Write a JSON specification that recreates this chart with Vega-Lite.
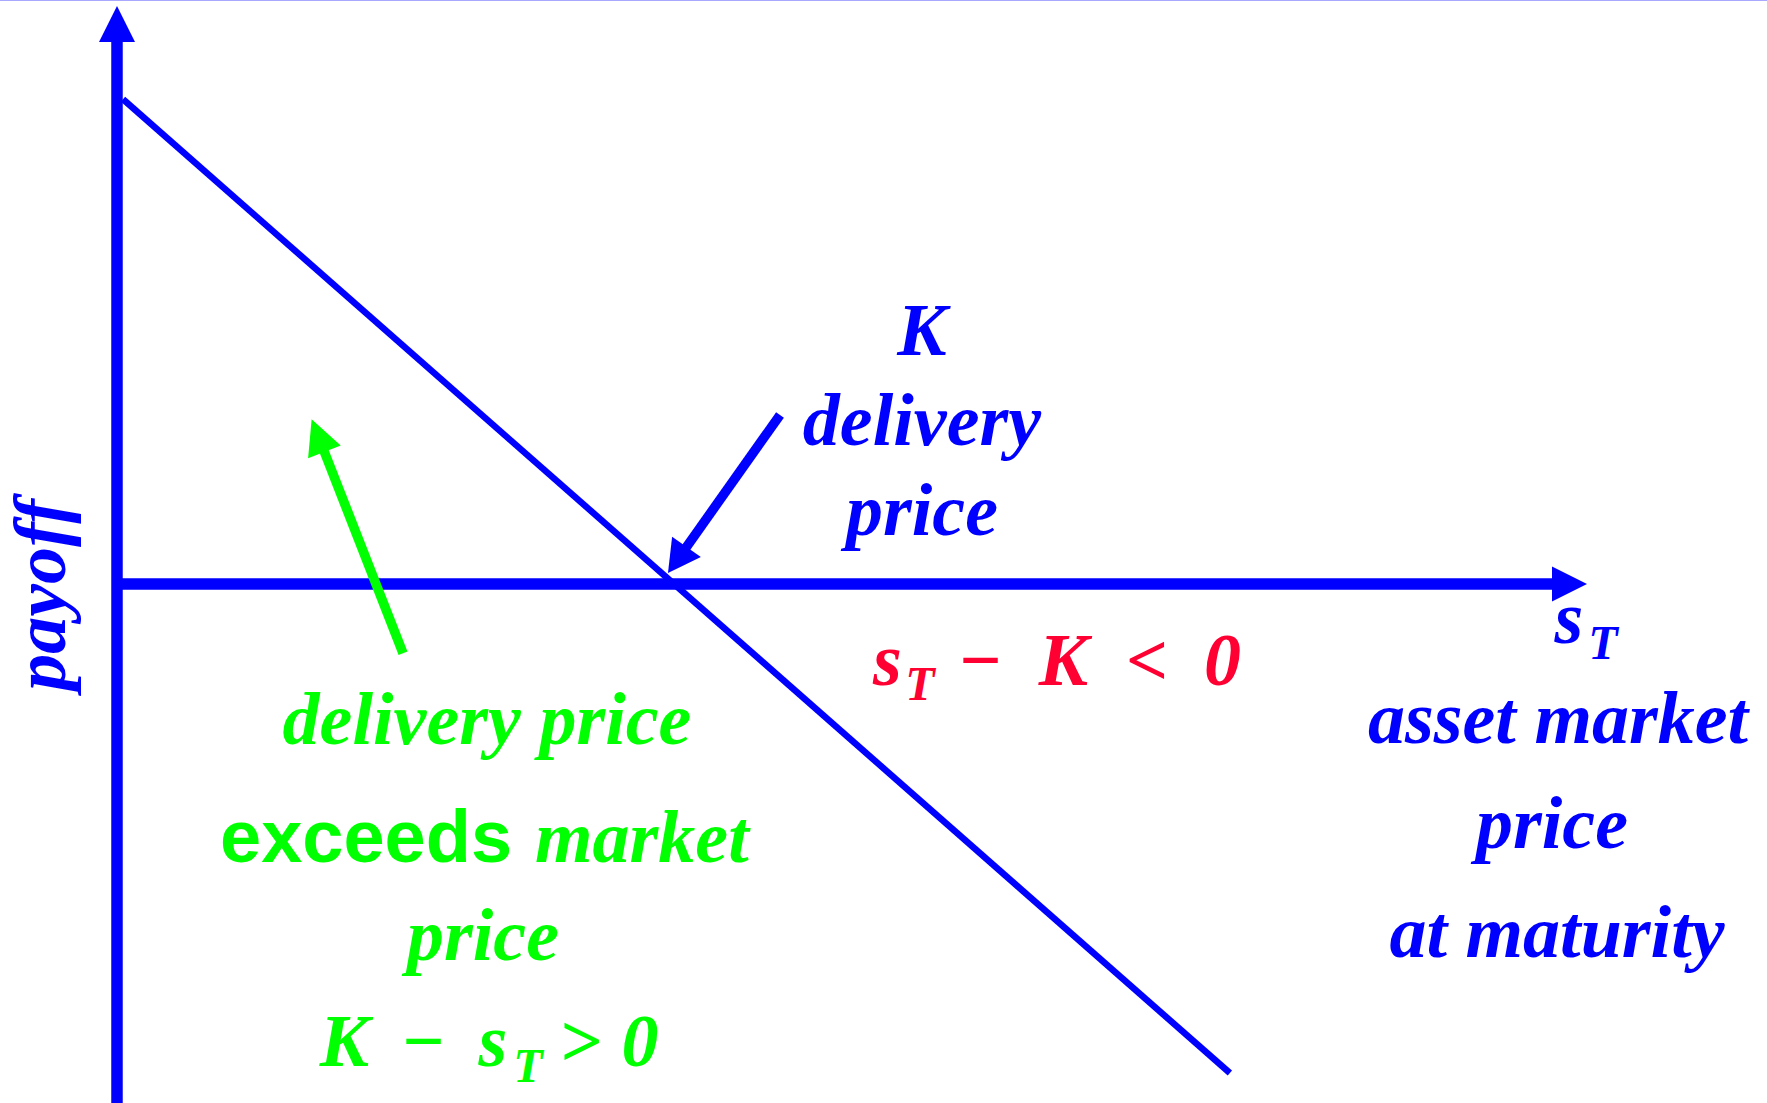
{
  "$schema": "https://vega.github.io/schema/vega-lite/v6.json",
  "width": 1767,
  "height": 1103,
  "padding": 0,
  "autosize": {"type": "none"},
  "background": "white",
  "config": {"view": {"stroke": null}},
  "encoding": {
    "x": {"field": "s", "type": "quantitative", "scale": {"domain": [-21.005, 296.23], "nice": false, "zero": false}, "axis": null},
    "y": {"field": "payoff", "type": "quantitative", "scale": {"domain": [-105.92, 119.18], "nice": false, "zero": false}, "axis": null}
  },
  "layer": [
    {
      "data": {"values": [{"s": -21.005, "s2": 296.23, "payoff": 119.18}]},
      "mark": {"type": "rule", "color": "#a8a8ff", "strokeWidth": 2},
      "encoding": {"x2": {"field": "s2"}}
    },
    {
      "data": {"values": [{"s": 0, "payoff": -105.92, "payoff2": 112.5}]},
      "mark": {"type": "rule", "color": "#0000ff", "strokeWidth": 11.5, "strokeCap": "butt"},
      "encoding": {"y2": {"field": "payoff2"}}
    },
    {
      "data": {"values": [{"s": -0.9, "s2": 259.5, "payoff": 0}]},
      "mark": {"type": "rule", "color": "#0000ff", "strokeWidth": 11.5, "strokeCap": "butt"},
      "encoding": {"x2": {"field": "s2"}}
    },
    {
      "data": {"values": [{"s": 0, "payoff": 114.29}]},
      "mark": {"type": "point", "shape": "M0,-1L-1,1L1,1Z", "size": 1296, "filled": true, "color": "#0000ff", "opacity": 1, "strokeWidth": 0}
    },
    {
      "data": {"values": [{"s": 260.77, "payoff": 0}]},
      "mark": {"type": "point", "shape": "M0,-1L-1,1L1,1Z", "size": 1225, "angle": 90, "filled": true, "color": "#0000ff", "opacity": 1, "strokeWidth": 0}
    },
    {
      "data": {"values": [{"s": 1.08, "payoff": 98.92}, {"s": 199.8, "payoff": -99.8}]},
      "mark": {"type": "line", "color": "#0000ff", "strokeWidth": 6.5, "strokeCap": "butt"}
    },
    {
      "data": {"values": [{"s": 51.35, "payoff": -14.14, "s2": 36.77, "payoff2": 28.29}]},
      "mark": {"type": "rule", "color": "#00ff00", "strokeWidth": 9.5, "strokeCap": "butt"},
      "encoding": {"x2": {"field": "s2"}, "y2": {"field": "payoff2"}}
    },
    {
      "data": {"values": [{"s": 36.09, "payoff": 30.29}]},
      "mark": {"type": "point", "shape": "M0,-1L-1,1L1,1Z", "size": 1225, "angle": 338.6, "filled": true, "color": "#00ff00", "opacity": 1, "strokeWidth": 0}
    },
    {
      "data": {"values": [{"s": 119.03, "payoff": 34.49, "s2": 101.42, "payoff2": 6.24}]},
      "mark": {"type": "rule", "color": "#0000ff", "strokeWidth": 9.5, "strokeCap": "butt"},
      "encoding": {"x2": {"field": "s2"}, "y2": {"field": "payoff2"}}
    },
    {
      "data": {"values": [{"s": 100.58, "payoff": 4.91}]},
      "mark": {"type": "point", "shape": "M0,-1L-1.1,1L1.1,1Z", "size": 1024, "angle": 215.3, "filled": true, "color": "#0000ff", "opacity": 1, "strokeWidth": 0}
    },
    {
      "data": {"values": [
        {"s": 144.52, "payoff": 46.73, "label": "K"},
        {"s": 144.52, "payoff": 28.37, "label": "delivery"},
        {"s": 144.52, "payoff": 10.0, "label": "price"},
        {"s": 260.68, "payoff": -12.04, "label": "s"},
        {"s": 258.71, "payoff": -32.45, "label": "asset market"},
        {"s": 257.63, "payoff": -53.88, "label": "price"},
        {"s": 258.53, "payoff": -76.12, "label": "at maturity"}
      ]},
      "mark": {"type": "text", "font": "Liberation Serif", "fontStyle": "italic", "fontWeight": "bold", "fontSize": 74, "color": "#0000ff", "align": "center", "baseline": "alphabetic"},
      "encoding": {"text": {"field": "label"}}
    },
    {
      "data": {"values": [{"s": 266.79, "payoff": -15.31, "label": "T"}]},
      "mark": {"type": "text", "font": "Liberation Serif", "fontStyle": "italic", "fontWeight": "bold", "fontSize": 48, "color": "#0000ff", "align": "center", "baseline": "alphabetic"},
      "encoding": {"text": {"field": "label"}}
    },
    {
      "data": {"values": [{"s": -9.3, "payoff": -2.24, "label": "payoff"}]},
      "mark": {"type": "text", "font": "Liberation Serif", "fontStyle": "italic", "fontWeight": "bold", "fontSize": 74, "color": "#0000ff", "align": "center", "baseline": "alphabetic", "angle": 270},
      "encoding": {"text": {"field": "label"}}
    },
    {
      "data": {"values": [
        {"s": 138.33, "payoff": -20.61, "label": "s"},
        {"s": 154.94, "payoff": -20.61, "label": "−"},
        {"s": 169.93, "payoff": -20.61, "label": "K"},
        {"s": 184.92, "payoff": -20.61, "label": "<"},
        {"s": 198.47, "payoff": -20.61, "label": "0"}
      ]},
      "mark": {"type": "text", "font": "Liberation Serif", "fontStyle": "italic", "fontWeight": "bold", "fontSize": 74, "color": "#ff0033", "align": "center", "baseline": "alphabetic"},
      "encoding": {"text": {"field": "label"}}
    },
    {
      "data": {"values": [{"s": 144.17, "payoff": -23.67, "label": "T"}]},
      "mark": {"type": "text", "font": "Liberation Serif", "fontStyle": "italic", "fontWeight": "bold", "fontSize": 48, "color": "#ff0033", "align": "center", "baseline": "alphabetic"},
      "encoding": {"text": {"field": "label"}}
    },
    {
      "data": {"values": [
        {"s": 66.43, "payoff": -32.65, "label": "delivery price"},
        {"s": 65.71, "payoff": -76.73, "label": "price"},
        {"s": 40.84, "payoff": -98.37, "label": "K"},
        {"s": 54.94, "payoff": -98.37, "label": "−"},
        {"s": 67.5, "payoff": -98.37, "label": "s"},
        {"s": 83.12, "payoff": -98.37, "label": ">"},
        {"s": 93.9, "payoff": -98.37, "label": "0"}
      ]},
      "mark": {"type": "text", "font": "Liberation Serif", "fontStyle": "italic", "fontWeight": "bold", "fontSize": 74, "color": "#00ff00", "align": "center", "baseline": "alphabetic"},
      "encoding": {"text": {"field": "label"}}
    },
    {
      "data": {"values": [{"s": 73.79, "payoff": -101.63, "label": "T"}]},
      "mark": {"type": "text", "font": "Liberation Serif", "fontStyle": "italic", "fontWeight": "bold", "fontSize": 48, "color": "#00ff00", "align": "center", "baseline": "alphabetic"},
      "encoding": {"text": {"field": "label"}}
    },
    {
      "data": {"values": [{"s": 18.49, "payoff": -56.73, "label": "exceeds"}]},
      "mark": {"type": "text", "font": "Liberation Sans", "fontWeight": "bold", "fontSize": 74, "color": "#00ff00", "align": "left", "baseline": "alphabetic"},
      "encoding": {"text": {"field": "label"}}
    },
    {
      "data": {"values": [{"s": 75.04, "payoff": -56.73, "label": "market"}]},
      "mark": {"type": "text", "font": "Liberation Serif", "fontStyle": "italic", "fontWeight": "bold", "fontSize": 74, "color": "#00ff00", "align": "left", "baseline": "alphabetic"},
      "encoding": {"text": {"field": "label"}}
    }
  ]
}
